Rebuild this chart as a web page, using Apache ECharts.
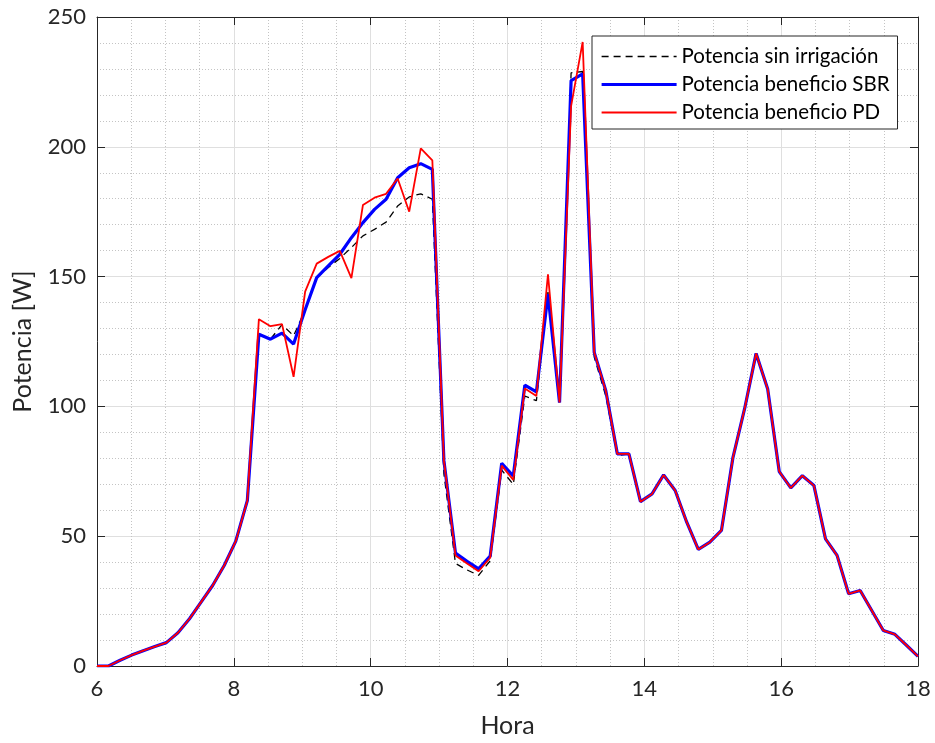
<!DOCTYPE html>
<html>
<head>
<meta charset="utf-8">
<title>Potencia</title>
<script src="https://cdn.jsdelivr.net/npm/echarts@6/dist/echarts.min.js"></script>
<style>
  html, body { margin: 0; padding: 0; background: #fff; }
  #chart { width: 935px; height: 743px; }
</style>
</head>
<body>
<div id="chart"></div>
<script>
// 72 samples, evenly spaced between 6:00 and 18:00
const sampleCount = 72;
const startHour = 6;
const endHour = 18;

// Power without irrigation [W]
const potenciaSinIrrigacion = [
  0, 0, 2.2, 4.2, 5.9, 7.5, 9.0, 12.8, 18.2, 24.6, 31.0, 38.7, 48.1, 63.7,
  127.8, 125.9, 131.5, 127.2, 137.0, 149.6, 153.5, 157.0, 161.2, 165.7, 168.2, 171.0, 177.2, 180.7, 181.9, 179.8,
  74.0, 39.5, 37.0, 34.9, 40.5, 75.5, 69.9, 104.0, 102.2, 144.0, 100.6, 228.5, 229.0, 119.0, 104.0, 81.0, 81.7,
  63.3, 66.3, 73.6, 67.6, 55.4, 44.9, 47.7, 52.2, 80.4, 99.0, 120.4, 106.7, 74.9, 68.6, 73.3, 69.5,
  49.0, 42.6, 27.8, 29.1, 21.4, 13.7, 12.2, 8.0, 3.7
];

// Power with SBR benefit [W]
const potenciaSBR = [
  0, 0, 2.2, 4.2, 5.9, 7.5, 9.0, 12.8, 18.2, 24.6, 31.0, 38.7, 48.1, 63.7,
  127.8, 125.9, 128.2, 124.0, 137.2, 149.6, 154.1, 158.6, 165.0, 170.8, 175.9, 179.8, 188.1, 191.9, 193.5, 191.3,
  79.1, 43.5, 40.3, 37.4, 42.3, 78.1, 73.2, 108.2, 105.6, 143.2, 101.5, 225.5, 228.1, 120.8, 106.0, 81.7, 81.7,
  63.3, 66.3, 73.6, 67.6, 55.4, 44.9, 47.7, 52.2, 80.4, 99.0, 120.4, 106.7, 74.9, 68.6, 73.3, 69.5,
  49.0, 42.6, 27.8, 29.1, 21.4, 13.7, 12.2, 8.0, 3.7
];

// Power with PD benefit [W]
const potenciaPD = [
  0, 0, 2.2, 4.2, 5.9, 7.5, 9.0, 12.8, 18.2, 24.6, 31.0, 38.7, 48.1, 63.7,
  133.6, 130.9, 131.7, 111.4, 144.2, 155.0, 157.6, 159.9, 149.4, 177.6, 180.4, 181.9, 187.8, 175.0, 199.4, 194.8,
  79.1, 42.6, 39.5, 36.5, 41.7, 77.2, 71.7, 106.9, 104.0, 150.9, 101.5, 215.7, 240.4, 120.8, 106.0, 81.7, 81.7,
  63.3, 66.3, 73.6, 67.6, 55.4, 44.9, 47.7, 52.2, 80.4, 99.0, 120.4, 106.7, 74.9, 68.6, 73.3, 69.5,
  49.0, 42.6, 27.8, 29.1, 21.4, 13.7, 12.2, 8.0, 3.7
];

const seriesNames = ['Potencia sin irrigación', 'Potencia beneficio SBR', 'Potencia beneficio PD'];
const xTicks = { min: 6, max: 18, step: 2 };
const yTicks = { min: 0, max: 250, step: 50 };

const hours = [];
for (let i = 0; i < sampleCount; i++) {
  hours.push(startHour + i * (endHour - startHour) / (sampleCount - 1));
}
const pairs = (vals) => vals.map((v, i) => [hours[i], v]);

const FONT = 'Lato';
const AX = '#262626';

// Line styles shared by the plotted curves and their legend samples
const styleSin = { color: '#000', width: 1.3, type: [7, 5] };
const styleSBR = { color: '#0000ff', width: 3.2 };
const stylePD = { color: '#ff0000', width: 1.8 };

const chart = echarts.init(document.getElementById('chart'), null, { renderer: 'canvas' });

const baseX = {
  type: 'value', min: xTicks.min, max: xTicks.max, interval: xTicks.step,
  axisLine: { show: true, onZero: false, lineStyle: { color: AX, width: 1 } },
  axisTick: { show: true, inside: true, length: 8, lineStyle: { color: AX, width: 1 } }
};
const baseY = {
  type: 'value', min: yTicks.min, max: yTicks.max, interval: yTicks.step,
  axisLine: { show: true, onZero: false, lineStyle: { color: AX, width: 1 } },
  axisTick: { show: true, inside: true, length: 8, lineStyle: { color: AX, width: 1 } }
};

chart.setOption({
  animation: false,
  backgroundColor: '#fff',
  grid: { left: 97, right: 17, top: 17, bottom: 77, containLabel: false },
  xAxis: [
    Object.assign({}, baseX, {
      position: 'bottom',
      name: 'Hora', nameLocation: 'middle', nameGap: 47,
      nameTextStyle: { fontFamily: FONT, fontSize: 25, color: AX },
      axisLabel: { fontFamily: FONT, fontSize: 22, color: AX, margin: 12 },
      splitLine: { show: true, lineStyle: { color: '#dfdfdf', width: 1 } },
      minorTick: { show: true, splitNumber: 4, length: 0 },
      minorSplitLine: { show: true, lineStyle: { color: '#c4c4c4', width: 1, type: [1, 2] } }
    }),
    Object.assign({}, baseX, {
      position: 'top',
      axisLabel: { show: false },
      splitLine: { show: false }
    })
  ],
  yAxis: [
    Object.assign({}, baseY, {
      position: 'left',
      name: 'Potencia [W]', nameLocation: 'middle', nameGap: 62,
      nameTextStyle: { fontFamily: FONT, fontSize: 25, color: AX },
      axisLabel: { fontFamily: FONT, fontSize: 22, color: AX, margin: 11 },
      splitLine: { show: true, lineStyle: { color: '#dfdfdf', width: 1 } },
      minorTick: { show: true, splitNumber: 5, length: 0 },
      minorSplitLine: { show: true, lineStyle: { color: '#c4c4c4', width: 1, type: [1, 2] } }
    }),
    Object.assign({}, baseY, {
      position: 'right',
      axisLabel: { show: false },
      splitLine: { show: false }
    })
  ],
  legend: {
    data: [
      { name: seriesNames[0], lineStyle: styleSin },
      { name: seriesNames[1], lineStyle: styleSBR },
      { name: seriesNames[2], lineStyle: stylePD }
    ],
    orient: 'vertical',
    left: 592, top: 36,
    padding: [10, 8, 6, 8],
    itemGap: 7,
    itemWidth: 75, itemHeight: 14,
    borderColor: AX, borderWidth: 1, borderRadius: 0,
    backgroundColor: '#fff',
    itemStyle: { color: 'rgba(0,0,0,0)', borderColor: 'rgba(0,0,0,0)', borderWidth: 0, opacity: 0 },
    textStyle: { fontFamily: FONT, fontSize: 20.5, color: '#000' }
  },
  series: [
    {
      name: seriesNames[0], type: 'line', xAxisIndex: 0, yAxisIndex: 0,
      data: pairs(potenciaSinIrrigacion), symbol: 'none', showSymbol: false, z: 2,
      lineStyle: styleSin, itemStyle: { color: styleSin.color }
    },
    {
      name: seriesNames[1], type: 'line', xAxisIndex: 0, yAxisIndex: 0,
      data: pairs(potenciaSBR), symbol: 'none', showSymbol: false, z: 3,
      lineStyle: styleSBR, itemStyle: { color: styleSBR.color }
    },
    {
      name: seriesNames[2], type: 'line', xAxisIndex: 0, yAxisIndex: 0,
      data: pairs(potenciaPD), symbol: 'none', showSymbol: false, z: 4,
      lineStyle: stylePD, itemStyle: { color: stylePD.color }
    }
  ]
});
</script>
</body>
</html>
